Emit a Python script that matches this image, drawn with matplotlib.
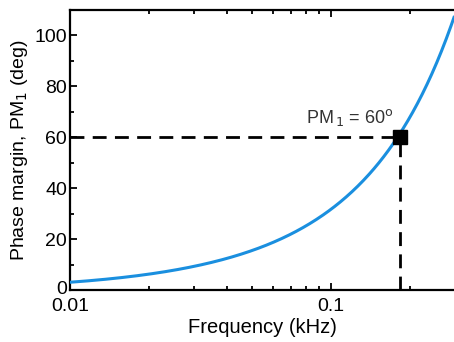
import numpy as np
import matplotlib
matplotlib.use("Agg")
import matplotlib.pyplot as plt
from matplotlib.ticker import FixedLocator, NullFormatter
from matplotlib.transforms import ScaledTranslation

plt.rcParams['font.family'] = ['Liberation Sans', 'DejaVu Sans']

freq = [0.01, 0.0156, 0.0242, 0.0376, 0.0583, 0.0656, 0.0962, 0.129, 0.152, 0.184, 0.195, 0.219, 0.254, 0.290, 0.296]
pm = [3.0, 5.0, 7.45, 11.8, 17.3, 20.3, 31.4, 43.1, 50.3, 60.0, 64.7, 74.5, 90.2, 104.6, 107.0]
f_sel = 0.184
pm_sel = 60

fig = plt.figure(figsize=(4.54, 3.42), dpi=100)
ax = fig.add_axes([0.154, 0.152, 0.846, 0.819])

# smooth curve through the read points (least-squares in log-log space)
lf = np.log10(freq)
lp = np.log(pm)
coef = np.polyfit(lf, lp, 3)
xs = np.linspace(lf[0], lf[-1], 400)
ys = np.exp(np.polyval(coef, xs))
ax.plot(10**xs, ys, color='#1a8fdf', lw=2.2, zorder=3)

ax.plot([0.01, f_sel], [pm_sel, pm_sel], color='black', lw=2.0, dashes=(5, 3), zorder=2)
ax.plot([f_sel, f_sel], [0, pm_sel], color='black', lw=2.0, dashes=(5, 3), zorder=2)
ax.plot([f_sel], [pm_sel], marker='s', ms=10, color='black', zorder=4)

ax.text(0.0805, 63.5, r'PM$_{\,1}$ = 60$^{\mathrm{o}}$', fontsize=13, color='#333333', ha='left', va='bottom')

ax.set_xscale('log')
ax.set_xlim(0.01, 0.296)
ax.set_ylim(0, 110)
ax.set_xticks([0.01, 0.1])
ax.set_xticklabels(['0.01', '0.1'])
ax.xaxis.set_minor_locator(FixedLocator([0.02, 0.03, 0.04, 0.05, 0.06, 0.07, 0.08, 0.09, 0.2]))
ax.xaxis.set_minor_formatter(NullFormatter())
ax.set_yticks([0, 20, 40, 60, 80, 100])
ax.yaxis.set_minor_locator(FixedLocator([10, 30, 50, 70, 90]))

ax.tick_params(which='both', direction='in', top=True, right=False, labelsize=14, width=1.3, pad=2)
ax.tick_params(axis='x', which='major', pad=6)
ax.tick_params(which='major', length=5)
ax.tick_params(which='minor', length=3)
for s in ['left', 'bottom', 'top']:
    ax.spines[s].set_linewidth(1.6)
ax.spines['right'].set_visible(False)

# nudge the "0" y tick label up slightly so it does not collide with "0.01"
fig.canvas.draw()
ylab0 = ax.get_yticklabels()[0]
ylab0.set_transform(ylab0.get_transform() + ScaledTranslation(0, 3 / 100, fig.dpi_scale_trans))

ax.set_xlabel('Frequency (kHz)', fontsize=14.5, labelpad=2)
ax.set_ylabel(r'Phase margin, PM$_1$ (deg)', fontsize=14, labelpad=3)

fig.savefig('out.png', dpi=100)
